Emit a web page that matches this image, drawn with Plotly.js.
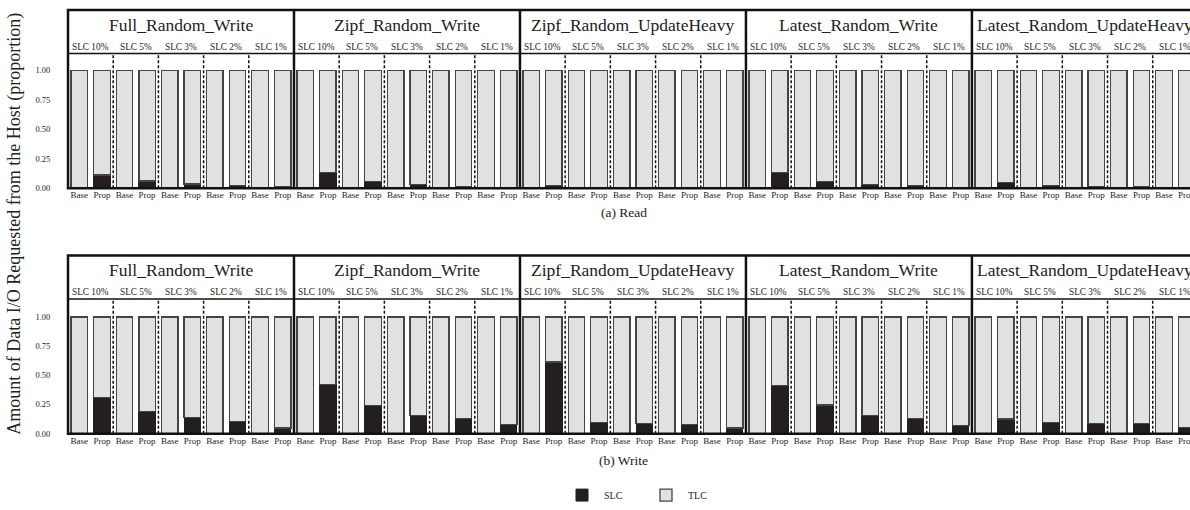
<!DOCTYPE html>
<html><head><meta charset="utf-8">
<script src="https://cdn.plot.ly/plotly-3.0.1.min.js"></script>
<style>html,body{margin:0;padding:0;background:#fff;}#chart{width:1190px;height:510px;}</style>
</head><body><div id="chart"></div>
<script>
// ---- data ----
const workloads = ["Full_Random_Write","Zipf_Random_Write","Zipf_Random_UpdateHeavy","Latest_Random_Write","Latest_Random_UpdateHeavy"];
const slcSizes = ["SLC 10%","SLC 5%","SLC 3%","SLC 2%","SLC 1%"];
const schemes = ["Base","Prop"];
const yTickVals = [0, 0.25, 0.5, 0.75, 1];
const yTickText = ["0.00","0.25","0.50","0.75","1.00"];
const panelTitles = ["(a) Read","(b) Write"];
// SLC proportion of host I/O (TLC = 1 - SLC); rows = workloads, cols = SLC sizes
const readBaseSLC  = [[0,0,0,0,0],[0,0,0,0,0],[0,0,0,0,0],[0,0,0,0,0],[0,0,0,0,0]];
const readPropSLC  = [[0.112,0.060,0.035,0.022,0.010],
                      [0.134,0.059,0.028,0.015,0.008],
                      [0.020,0.005,0.004,0.003,0.002],
                      [0.134,0.059,0.033,0.020,0.008],
                      [0.045,0.025,0.012,0.010,0.005]];
const writeBaseSLC = [[0,0,0,0,0],[0,0,0,0,0],[0,0,0,0,0],[0,0,0,0,0],[0,0,0,0,0]];
const writePropSLC = [[0.310,0.190,0.138,0.107,0.050],
                      [0.424,0.240,0.158,0.130,0.076],
                      [0.613,0.098,0.087,0.081,0.050],
                      [0.410,0.246,0.158,0.130,0.070],
                      [0.127,0.098,0.090,0.087,0.053]];

const SLC_COLOR = "#231f20", TLC_COLOR = "#e0e1e3", OUTLINE = "#444";
const FONT = "Liberation Serif, Times New Roman, serif";

function series(base, prop) {
  const x = [], slc = [], tlc = [], txt = [];
  workloads.forEach((w, p) => slcSizes.forEach((s, g) => schemes.forEach((sc, k) => {
    const v = (k === 0 ? base : prop)[p][g];
    x.push(p * 10 + g * 2 + k); slc.push(v); tlc.push(1 - v); txt.push(sc);
  })));
  return {x, slc, tlc, txt};
}
const rows = [series(readBaseSLC, readPropSLC), series(writeBaseSLC, writePropSLC)];

const traces = [];
rows.forEach((d, r) => {
  const xa = r === 0 ? "x" : "x2", ya = r === 0 ? "y" : "y2";
  traces.push({type: "bar", name: "SLC", legendgroup: "SLC", showlegend: r === 0, x: d.x, y: d.slc,
    xaxis: xa, yaxis: ya, width: 0.73, marker: {color: SLC_COLOR, line: {color: SLC_COLOR, width: 1}}});
  traces.push({type: "bar", name: "TLC", legendgroup: "TLC", showlegend: r === 0, x: d.x, y: d.tlc,
    xaxis: xa, yaxis: ya, width: 0.73, marker: {color: TLC_COLOR, line: {color: OUTLINE, width: 1.3}}});
});

// geometry (paper fractions, margins t=b=0)
const geo = [
  {yb: 1 - 190/510, yhb: 1 - 54/510, yht: 1 - 10/510, yTitle: 1 - 25/510, ySlc: 1 - 47/510, ySub: 1 - 215/510},
  {yb: 1 - 438/510, yhb: 1 - 302/510, yht: 1 - 258/510, yTitle: 1 - 273/510, ySlc: 1 - 295/510, ySub: 1 - 465/510}
];
const XMAX = 49.15;
const shapes = [], annotations = [];
geo.forEach((g, r) => {
  const xr = r === 0 ? "x" : "x2";
  shapes.push({type: "rect", xref: xr, yref: "paper", x0: -0.5, x1: 50, y0: g.yb, y1: g.yht, line: {color: "#111", width: 2.5}, layer: "above"});
  shapes.push({type: "line", xref: xr, yref: "paper", x0: -0.5, x1: 50, y0: g.yhb, y1: g.yhb, line: {color: "#111", width: 1.5}, layer: "above"});
  workloads.forEach((w, p) => {
    if (p > 0) shapes.push({type: "line", xref: xr, yref: "paper", x0: p*10 - 0.5, x1: p*10 - 0.5, y0: g.yb, y1: g.yht, line: {color: "#111", width: 2.5}, layer: "above"});
    for (let k = 1; k < slcSizes.length; k++) {
      const xv = p*10 + 2*k - 0.5;
      shapes.push({type: "line", xref: xr, yref: "paper", x0: xv, x1: xv, y0: g.yb, y1: g.yhb, line: {color: "#111", width: 1.5, dash: "3px,2px"}, layer: "above"});
    }
    annotations.push({xref: xr, yref: "paper", x: p*10 + 4.5, y: g.yTitle, text: w, showarrow: false,
      font: {family: FONT, size: 17.5, color: "#222"}, xanchor: "center", yanchor: "middle"});
    slcSizes.forEach((s, k) => annotations.push({xref: xr, yref: "paper", x: p*10 + 2*k + 0.5, y: g.ySlc, text: s, showarrow: false,
      font: {family: FONT, size: 9.3, color: "#222"}, xanchor: "center", yanchor: "middle"}));
  });
  annotations.push({xref: "paper", yref: "paper", x: (623.5 - 65)/1125, y: g.ySub, text: panelTitles[r], showarrow: false,
    font: {family: FONT, size: 13.5, color: "#222"}, xanchor: "center", yanchor: "middle"});
});
annotations.push({xref: "paper", yref: "paper", x: (15 - 65)/1125, y: 1 - 226/510, textangle: -90,
  text: "Amount of Data I/O Requested from the Host (proportion)", showarrow: false,
  font: {family: FONT, size: 18, color: "#222"}, xanchor: "center", yanchor: "middle"});

const xaxisBase = {range: [-0.633, XMAX], tickvals: rows[0].x, ticktext: rows[0].txt, tickangle: 0, ticklabeloverflow: "allow",
  tickfont: {family: FONT, size: 9, color: "#222"}, showgrid: false, zeroline: false, showline: false, ticks: "", fixedrange: true};
const yaxisBase = {tickvals: yTickVals, ticktext: yTickText, tickfont: {family: FONT, size: 8.5, color: "#222"},
  showgrid: false, zeroline: false, showline: false, ticks: "outside", ticklen: 12, tickcolor: "rgba(0,0,0,0)"};

const layout = {
  width: 1190, height: 510, margin: {l: 65, r: 0, t: 0, b: 0},
  paper_bgcolor: "#fff", plot_bgcolor: "#fff", barmode: "stack", bargap: 0,
  font: {family: FONT, color: "#222"},
  xaxis: Object.assign({}, xaxisBase, {anchor: "y"}),
  xaxis2: Object.assign({}, xaxisBase, {anchor: "y2"}),
  yaxis: Object.assign({}, yaxisBase, {domain: [geo[0].yb, geo[0].yhb], range: [0, 1.143], anchor: "x"}),
  yaxis2: Object.assign({}, yaxisBase, {domain: [geo[1].yb, geo[1].yhb], range: [0, 1.153], anchor: "x2"}),
  showlegend: true,
  legend: {orientation: "h", x: (560 - 65)/1125, xanchor: "left", y: 10/510, yanchor: "middle",
    font: {family: FONT, size: 10, color: "#222"}, itemwidth: 34, entrywidth: 35, entrywidthmode: "pixels",
    bgcolor: "rgba(0,0,0,0)", traceorder: "normal"},
  shapes: shapes, annotations: annotations
};
Plotly.newPlot("chart", traces, layout, {displayModeBar: false, staticPlot: true});
</script>
</body></html>
